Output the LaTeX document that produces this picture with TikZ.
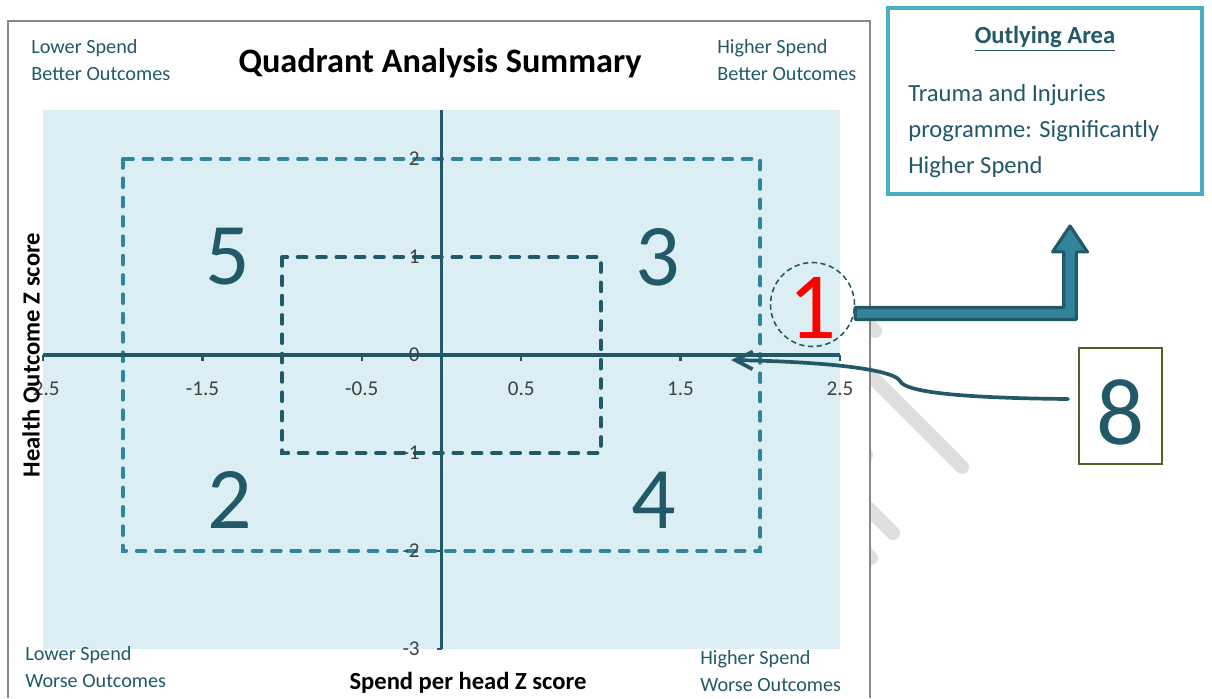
\documentclass[tikz,border=0pt]{standalone}
\usepackage{fontspec}
\setmainfont{Carlito}
\usetikzlibrary{positioning,calc,arrows.meta}
\definecolor{darkteal}{RGB}{33,89,104}
\definecolor{midteal}{RGB}{49,132,155}
\definecolor{lightteal}{RGB}{75,172,198}
\definecolor{plotbg}{RGB}{218,238,243}
\definecolor{olive}{RGB}{79,98,40}
\definecolor{framegray}{RGB}{136,136,136}
\definecolor{wmgray}{RGB}{222,222,222}
\definecolor{lblgray}{RGB}{64,64,64}
\tikzstyle{axisline}=[darkteal, line width=2pt]
\tikzstyle{dashout}=[midteal, line width=2.2pt, line cap=round, dash pattern=on 5pt off 6pt]
\tikzstyle{dashin}=[darkteal, line width=2.2pt, line cap=round, dash pattern=on 5pt off 6pt]
\tikzstyle{ticklbl}=[inner sep=0pt, text=lblgray, font=\fontsize{12}{12}\selectfont]
\tikzstyle{qnum}=[inner sep=0pt, text=darkteal, font=\fontsize{50}{50}\selectfont]
\tikzstyle{corner}=[inner sep=0pt, anchor=north west, align=left, text=darkteal,
                    font=\fontsize{11.5}{15.3}\selectfont]
\tikzstyle{axtitle}=[inner sep=0pt, font=\fontsize{14}{14}\selectfont\bfseries]
\tikzstyle{circ}=[circle, draw=darkteal, line width=0.9pt, dash pattern=on 3pt off 2pt,
                  minimum size=1.68cm, inner sep=0pt, text=red, font=\fontsize{54}{54}\selectfont,
                  text height=39pt, text depth=0pt]
\tikzstyle{ebox}=[rectangle, draw=olive, line width=1.1pt, fill=white, minimum width=1.66cm,
                  minimum height=2.32cm, inner sep=0pt, text=darkteal,
                  font=\fontsize{54}{54}\selectfont, text height=44pt, text depth=0pt]
\tikzstyle{obox}=[rectangle, draw=lightteal, line width=2.3pt, fill=white, minimum width=6.28cm,
                  minimum height=3.72cm]
\tikzstyle{otitle}=[inner sep=0pt, text=darkteal, font=\fontsize{14}{14}\selectfont\bfseries]
\tikzstyle{otext}=[inner sep=0pt, align=left, text=darkteal, font=\fontsize{14}{20.4}\selectfont]
\tikzstyle{blockarr}=[draw=darkteal, fill=midteal, line width=1.8pt, line join=round]
\tikzstyle{curvarr}=[darkteal, line width=2.1pt, line cap=round, -{Straight Barb[length=10pt,width=10pt]}]
\tikzstyle{wmbar}=[wmgray, line width=7.9pt, line cap=round]
\tikzstyle{framel}=[framegray, line width=1.1pt]

\begin{document}
\begin{tikzpicture}[x=0.02cm,y=-0.02cm]
\useasboundingbox (0,0) rectangle (1212,698);

\begin{scope}
\clip (871,0) rectangle (1212,698);
\foreach \ex/\ey in {875/331,866/455,962/467,893/533,871/558}
  \draw[wmbar] (\ex-150,\ey-150) -- (\ex,\ey);
\end{scope}

\draw[framel] (8,698) |- (870,21) -- (870,698);

\begin{scope}[shift={(441.5,355)},x=3.188cm,y=1.96cm]
\fill[plotbg] (-2.5,2.5) rectangle (2.5,-3);
\draw[dashout] (-2,2) rectangle (2,-2);
\draw[dashin] (-1,1) rectangle (1,-1);
\draw[axisline] (-2.5,0) -- (2.5,0);
\draw[axisline] (0,2.5) -- (0,-3);
\foreach \t in {-2.5,-1.5,-0.5,0.5,1.5,2.5}{
  \draw[axisline,line width=1.3pt] (\t,0) -- (\t,-0.06);
  \node[ticklbl] at (\t,-0.34) {\t};
}
\foreach \v in {2,1,0,-1,-2,-3}{
  \draw[axisline,line width=1.3pt] (0,\v) -- (-0.031,\v);
  \node[ticklbl,anchor=east] at (-0.135,\v) {\v};
}
\end{scope}

\node (QFIVE) [qnum] at (228,257) {5};
\node (QTHREE) [qnum] at (658,257) {3};
\node (QTWO) [qnum] at (230,500) {2};
\node (QFOUR) [qnum] at (654,500) {4};

\node (TITLE) [axtitle, font=\fontsize{19.5}{19.5}\selectfont\bfseries] at (440,63) {Quadrant Analysis Summary};
\node (LSBO) [corner] at (31,39) {Lower Spend\\Better Outcomes};
\node (HSBO) [corner] at (717,39) {Higher Spend\\Better Outcomes};
\node (LSWO) [corner] at (25,646) {Lower Spend\\Worse Outcomes};
\node (HSWO) [corner] at (700,650) {Higher Spend\\Worse Outcomes};
\node (XTITLE) [axtitle] at (468,683) {Spend per head Z score};
\node (YTITLE) [axtitle, rotate=90] at (31,355) {Health Outcome Z score};

\node (OUTLYING) [obox] at (1045,101) {};
\node (OUTTITLE) [otitle, below=0.4cm of OUTLYING.north] {\underline{Outlying Area}};
\node (OUTTEXT) [otext, below right=1.56cm and 0.44cm of OUTLYING.north west]
  {Trauma and Injuries\\programme: Significantly\\Higher Spend};

\node (ONE) [circ] at (812.5,304.5) {1};
\coordinate (ARRTIP) at (1070,226);
\draw[blockarr] let \p1=(ONE.east), \p2=(ARRTIP) in
  (\x1,\y1-1.7pt) -- (\x2-3.6pt,\y1-1.7pt) -- (\x2-3.6pt,\y2-14.7pt) -- (\x2-9.9pt,\y2-14.7pt)
  -- (\x2,\y2) -- (\x2+9.9pt,\y2-14.7pt) -- (\x2+3.6pt,\y2-14.7pt) -- (\x2+3.6pt,\y1-8.5pt)
  -- (\x1,\y1-8.5pt) -- cycle;

\node (EIGHT) [ebox] at (1120.5,406) {8};
\coordinate (AXHIT) at (731,360);
\draw[curvarr] (EIGHT.west) ++(-10,-7) .. controls (960,398) and (905,392) .. (900,381)
  .. controls (895,371) and (840,362) .. (AXHIT);

\end{tikzpicture}
\end{document}
